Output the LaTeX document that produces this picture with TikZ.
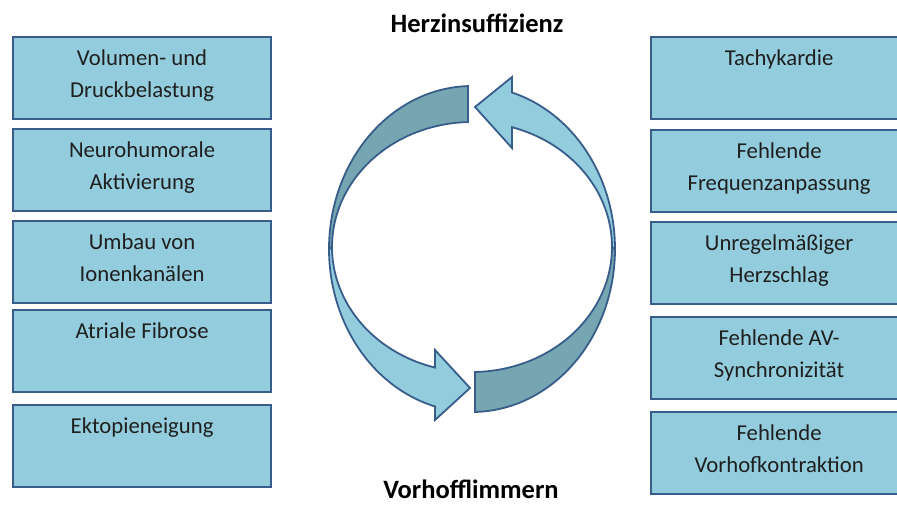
\documentclass[tikz,border=0pt]{standalone}
\usepackage{fontspec}
\setmainfont{Carlito}
\definecolor{boxfill}{RGB}{147,205,221}
\definecolor{darkfill}{RGB}{118,166,177}
\definecolor{edgecol}{RGB}{56,93,138}
\newcommand\bxfont{\fontsize{22.7}{32}\selectfont}
\newcommand\ttfont{\fontsize{26.5}{30}\selectfont\bfseries}
\tikzset{
  infobox/.style={draw=edgecol, line width=2.2pt, fill=boxfill, inner sep=0pt,
    minimum height=82pt, anchor=north west},
  leftbox/.style={infobox, minimum width=258pt},
  rightbox/.style={infobox, minimum width=256pt},
  lbl/.style={anchor=north, font=\bxfont, align=center, inner sep=0pt, yshift=-14pt, text=black!88},
  ttl/.style={font=\ttfont, inner sep=0pt, anchor=base},
  arr/.style={draw=edgecol, line width=1.8pt, line join=miter}
}
\begin{document}
\begin{tikzpicture}[x=1pt,y=-1pt]
\useasboundingbox (0,0) rectangle (897,504);
\clip (0,0) rectangle (897,504);
% left boxes
\node[leftbox, label={[lbl]north:{Volumen- und\\Druckbelastung}}] (l1) at (12,36) {};
\node[leftbox, label={[lbl]north:{Neurohumorale\\Aktivierung}}] (l2) at (12,128) {};
\node[leftbox, label={[lbl]north:{Umbau von\\Ionenkanälen}}] (l3) at (12,220) {};
\node[leftbox, label={[lbl]north:{Atriale Fibrose}}] (l4) at (12,309) {};
\node[leftbox, label={[lbl]north:{Ektopieneigung}}] (l5) at (12,404) {};
% right boxes
\node[rightbox, label={[lbl]north:{Tachykardie}}] (r1) at (650,36) {};
\node[rightbox, label={[lbl]north:{Fehlende\\Frequenzanpassung}}] (r2) at (650,129) {};
\node[rightbox, label={[lbl]north:{Unregelmäßiger\\Herzschlag}}] (r3) at (650,221) {};
\node[rightbox, label={[lbl]north:{Fehlende AV-\\Synchronizität}}] (r4) at (650,316) {};
\node[rightbox, label={[lbl]north:{Fehlende\\Vorhofkontraktion}}] (r5) at (650,411) {};
% titles
\node[ttl] (hi) at (477,32) {Herzinsuffizienz};
\node[ttl] (vf) at (471,498) {Vorhofflimmern};
% circular arrows
\draw[arr, fill=darkfill]
  plot[domain=91.6:180, samples=60] ({472+143*cos(\x)},{249-163*sin(\x)})
  -- plot[domain=180:91.6, samples=60] ({472+140*cos(\x)},{247-125*sin(\x)}) -- cycle;
\draw[arr, fill=boxfill]
  plot[domain=180:255, samples=50] ({472+143*cos(\x)},{249-163*sin(\x)})
  -- (435,420) -- (470,388) -- (435,350)
  -- plot[domain=254.7:180, samples=50] ({472+140*cos(\x)},{247-125*sin(\x)}) -- cycle;
\draw[arr, fill=darkfill]
  plot[domain=271.2:360, samples=60] ({472+143*cos(\x)},{249-163*sin(\x)})
  -- plot[domain=360:271.2, samples=60] ({472+140*cos(\x)},{247-125*sin(\x)}) -- cycle;
\draw[arr, fill=boxfill]
  plot[domain=0:73.76, samples=50] ({472+143*cos(\x)},{249-163*sin(\x)})
  -- (512,77) -- (475,107) -- (512,148)
  -- plot[domain=73.4:0, samples=50] ({472+140*cos(\x)},{247-125*sin(\x)}) -- cycle;
\end{tikzpicture}
\end{document}
